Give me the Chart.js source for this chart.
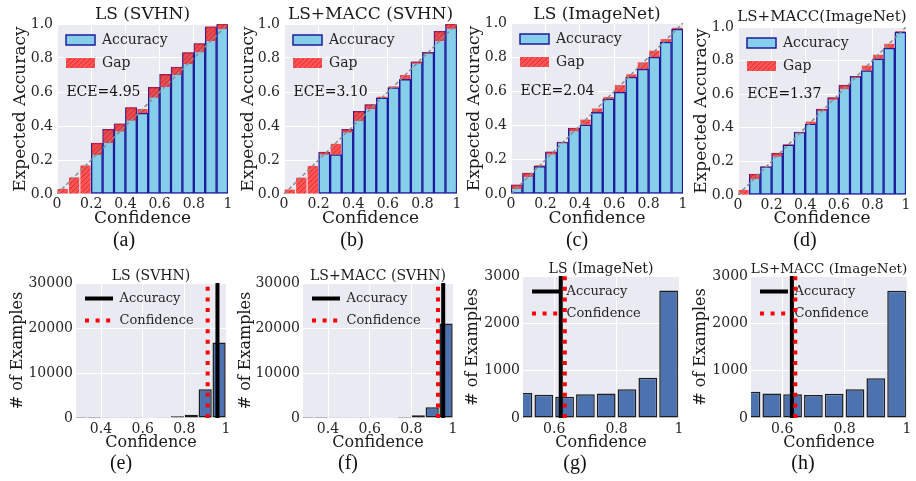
<!DOCTYPE html>
<html><head><meta charset="utf-8">
<script src="https://cdn.jsdelivr.net/npm/chart.js@4.4.1/dist/chart.umd.min.js"></script>
<style>
html,body{margin:0;padding:0;background:#fff;}
#wrap{position:relative;width:916px;height:481px;overflow:hidden;background:#fff;}
#wrap canvas{position:absolute;}
.cap{position:absolute;font-family:'Liberation Serif','DejaVu Serif',serif;font-size:20px;line-height:20px;color:#111;transform:translateX(-50%);white-space:nowrap;}
</style></head><body><div id="wrap"></div>
<script>
// ---------------- DATA ----------------
const BIN_CENTERS = [0.0333,0.1,0.1667,0.2333,0.3,0.3667,0.4333,0.5,0.5667,0.6333,0.7,0.7667,0.8333,0.9,0.9667];

const ACC_LS_SVHN    = [0,0,0,0.30,0.38,0.413,0.509,0.476,0.628,0.704,0.746,0.832,0.885,0.984,1.0];
const CONF_LS_SVHN   = [0.03,0.098,0.168,0.23,0.30,0.368,0.432,0.50,0.567,0.63,0.70,0.765,0.834,0.90,0.97];
const ACC_MACC_SVHN  = [0,0,0,0.246,0.232,0.38,0.486,0.526,0.565,0.626,0.675,0.778,0.833,0.957,1.0];
const CONF_MACC_SVHN = [0.026,0.096,0.165,0.232,0.295,0.362,0.43,0.50,0.572,0.633,0.70,0.767,0.827,0.90,0.972];
const ACC_LS_IMNET   = [0.053,0.123,0.162,0.246,0.304,0.386,0.405,0.478,0.556,0.596,0.684,0.731,0.80,0.889,0.965];
const CONF_LS_IMNET  = [0.03,0.10,0.168,0.232,0.30,0.367,0.435,0.50,0.567,0.637,0.70,0.77,0.838,0.906,0.972];
const ACC_MACC_IMNET = [0,0.125,0.169,0.249,0.298,0.374,0.423,0.511,0.58,0.654,0.706,0.74,0.81,0.875,0.97];
const CONF_MACC_IMNET= [0.03,0.095,0.165,0.229,0.303,0.37,0.437,0.50,0.567,0.63,0.70,0.77,0.835,0.90,0.975];
const DIAGONAL = [{x:0,y:0},{x:1,y:1}];
const ECE_LABELS = ['ECE=4.95','ECE=3.10','ECE=2.04','ECE=1.37'];

const REL_TICKS = [0,0.2,0.4,0.6,0.8,1];
const REL_X_LABELS = ['0','0.2','0.4','0.6','0.8','1'];
const REL_Y_LABELS = ['0.0','0.2','0.4','0.6','0.8','1.0'];

const HIST_CENTERS_SVHN = [0.3,0.3667,0.4333,0.5,0.5667,0.6333,0.7,0.7667,0.8333,0.9,0.9667];
const HIST_LS_SVHN   = [15,25,40,60,80,110,150,380,750,6400,16800];
const HIST_MACC_SVHN = [10,20,30,50,70,100,130,220,600,2400,21000];
const HIST_CENTERS_IMNET = [0.5,0.5667,0.6333,0.7,0.7667,0.8333,0.9,0.9667];
const HIST_LS_IMNET   = [530,490,448,500,515,608,852,2695];
const HIST_MACC_IMNET = [555,520,500,485,512,605,838,2690];

const AVG_ACC  = [0.959,0.953,0.621,0.631];
const AVG_CONF = [0.912,0.928,0.634,0.642];

const SVHN_Y_TICKS = [0,10000,20000,30000];
const IMNET_Y_TICKS = [0,1000,2000,3000];
const SVHN_X_TICKS = [0.4,0.6,0.8,1];
const SVHN_X_LABELS = ['0.4','0.6','0.8','1'];
const IMNET_X_TICKS = [0.6,0.8,1];
const IMNET_X_LABELS = ['0.6','0.8','1'];

const CAPTIONS = ['(a)','(b)','(c)','(d)','(e)','(f)','(g)','(h)'];

// ---------------- SETUP ----------------
Chart.defaults.font.family = 'DejaVu Serif';
Chart.defaults.color = '#262626';
Chart.defaults.animation = false;
const wrap = document.getElementById('wrap');

const bgPlugin = {
  id: 'plotBg',
  beforeDraw(chart) {
    const {ctx, chartArea: a} = chart;
    ctx.save(); ctx.fillStyle = '#EAEAF2';
    ctx.fillRect(a.left, a.top, a.width, a.height); ctx.restore();
  }
};
// keep the in-plot legend anchored at the top-left corner of the plot area
const legendAnchorPlugin = {
  id: 'legendAnchor',
  afterLayout(chart) {
    const lg = chart.legend;
    if (!lg) return;
    const a = chart.chartArea;
    const h = lg.height, w = lg.width;
    lg.top = a.top; lg.bottom = a.top + h;
    lg.left = a.left; lg.right = a.left + w;
    if (typeof lg.adjustHitBoxes === 'function') lg.adjustHitBoxes();
  }
};
const ecePlugin = {
  id: 'eceText',
  afterDatasetsDraw(chart, args, opts) {
    if (!opts || !opts.text) return;
    const {ctx, scales} = chart;
    ctx.save();
    ctx.font = '14px "DejaVu Serif"'; ctx.fillStyle = '#111';
    ctx.textAlign = 'left'; ctx.textBaseline = 'middle';
    ctx.fillText(opts.text, scales.x.getPixelForValue(opts.x), scales.y.getPixelForValue(opts.y));
    ctx.restore();
  }
};

function makeHatch() {
  const c = document.createElement('canvas'); c.width = 5; c.height = 5;
  const g = c.getContext('2d');
  g.fillStyle = 'rgba(255,40,40,0.78)'; g.fillRect(0,0,5,5);
  g.strokeStyle = 'rgba(200,0,0,0.45)'; g.lineWidth = 1;
  g.beginPath();
  g.moveTo(0,5); g.lineTo(5,0);
  g.moveTo(-2.5,2.5); g.lineTo(2.5,-2.5);
  g.moveTo(2.5,7.5); g.lineTo(7.5,2.5);
  g.stroke();
  return g.createPattern(c, 'repeat');
}

function makeCanvas(g) {
  const c = document.createElement('canvas');
  c.width = g.cR - g.cL; c.height = g.cB - g.cT;
  c.style.left = g.cL + 'px'; c.style.top = g.cT + 'px';
  c.style.width = c.width + 'px'; c.style.height = c.height + 'px';
  wrap.appendChild(c);
  return c;
}

function baseOptions(g, xCfg, yCfg, legendCfg, extraPlugins) {
  const yW = g.L - g.cL, xH = g.cB - g.B, titleH = g.T - g.cT, rW = g.cR - g.R;
  const tPb = Math.max(0, g.T - g.titleY - g.titleSize / 2);
  const tPt = Math.max(0, titleH - tPb - g.titleSize);
  const yTp = Math.max(0, g.yTitleX - g.cL - g.axisTitleSize / 2);
  const xTp = Math.max(0, g.cB - g.xTitleY - g.axisTitleSize / 2);
  return {
    responsive: false, animation: false, devicePixelRatio: 1,
    layout: {padding: 0},
    plugins: Object.assign({
      title: {display: true, text: g.title, color: '#1a1a1a',
        font: {size: g.titleSize, lineHeight: 1, weight: 'normal'},
        padding: {top: tPt, bottom: tPb}},
      legend: legendCfg,
      tooltip: {enabled: false}
    }, extraPlugins || {}),
    scales: {
      x: Object.assign({
        type: 'linear', offset: false,
        grid: {color: '#ffffff', lineWidth: 1, drawTicks: false, offset: false},
        border: {display: false},
        title: {display: true, text: g.xTitle, color: '#1a1a1a',
          font: {size: g.axisTitleSize, lineHeight: 1}, padding: {top: 0, bottom: xTp}},
        afterFit: s => { s.height = xH; }
      }, xCfg),
      y: Object.assign({
        type: 'linear',
        grid: {color: '#ffffff', lineWidth: 1, drawTicks: false},
        border: {display: false},
        title: {display: true, text: g.yTitle, color: '#1a1a1a',
          font: {size: g.axisTitleSize, lineHeight: 1}, padding: {top: yTp, bottom: 0}},
        afterFit: s => { s.width = yW; }
      }, yCfg),
      // empty right-hand spacer so that the figure title is centred over the plot
      spacer: {
        type: 'linear', position: 'right', display: true,
        grid: {display: false}, border: {display: false}, ticks: {display: false},
        afterFit: s => { s.width = rW; }
      }
    }
  };
}

function reliabilityPanel(g, acc, conf, eceText) {
  const canvas = makeCanvas(g);
  const legendCfg = {
    display: true, position: 'chartArea', align: 'start',
    labels: {boxWidth: 29, boxHeight: 10, padding: 9, color: '#262626', font: {size: 14},
      filter: it => it.datasetIndex < 2,
      sort: (a, b) => a.datasetIndex - b.datasetIndex}
  };
  const xCfg = {
    min: 0, max: 1,
    afterBuildTicks: s => { s.ticks = REL_TICKS.map(v => ({value: v})); },
    ticks: {callback: (v, i) => REL_X_LABELS[i], font: {size: 14}, padding: 2, maxRotation: 0, autoSkip: false}
  };
  const yCfg = {
    min: 0, max: 1,
    afterBuildTicks: s => { s.ticks = REL_TICKS.map(v => ({value: v})); },
    ticks: {callback: (v, i) => REL_Y_LABELS[i], font: {size: 14}, padding: 4, autoSkip: false}
  };
  new Chart(canvas, {
    type: 'bar',
    data: {datasets: [
      {label: 'Accuracy', data: BIN_CENTERS.map((c, i) => ({x: c, y: acc[i]})),
        backgroundColor: '#87CEEB', borderColor: '#1c1c9c', borderWidth: 1.5, borderSkipped: false,
        grouped: false, barPercentage: 1, categoryPercentage: 1, order: 2},
      {label: 'Gap', data: BIN_CENTERS.map((c, i) => ({x: c, y: [acc[i], conf[i]]})),
        backgroundColor: makeHatch(), borderWidth: 0,
        grouped: false, barPercentage: 0.9, categoryPercentage: 1, order: 1},
      {type: 'line', label: 'diag', data: DIAGONAL, borderColor: '#8c8c8c', borderWidth: 1.5,
        borderDash: [4, 2.5], pointRadius: 0, order: 0}
    ]},
    options: baseOptions(g, xCfg, yCfg, legendCfg, {eceText: {text: eceText, x: 0.055, y: 0.6}}),
    plugins: [bgPlugin, legendAnchorPlugin, ecePlugin]
  });
}

function histPanel(g, centers, counts, acc, conf, yTicks, xTicks, xLabels, xMin, barPct) {
  const canvas = makeCanvas(g);
  const yMax = yTicks[yTicks.length - 1];
  const legendCfg = {
    display: true, position: 'chartArea', align: 'start',
    labels: {usePointStyle: true, pointStyleWidth: 28, padding: 9, color: '#262626', font: {size: 13},
      sort: (a, b) => a.datasetIndex - b.datasetIndex,
      generateLabels(chart) {
        const base = Chart.defaults.plugins.legend.labels.generateLabels(chart);
        return base.filter(it => it.datasetIndex < 2).map(it => {
          const ds = chart.data.datasets[it.datasetIndex];
          return Object.assign(it, {lineWidth: ds.borderWidth, strokeStyle: ds.borderColor,
            lineDash: ds.borderDash || [], pointStyle: 'line', lineCap: 'butt'});
        });
      }}
  };
  const xCfg = {
    min: xMin, max: 1,
    afterBuildTicks: s => { s.ticks = xTicks.map(v => ({value: v})); },
    ticks: {callback: (v, i) => xLabels[i], font: {size: 14}, padding: 3, maxRotation: 0, autoSkip: false}
  };
  const yCfg = {
    min: 0, max: yMax,
    afterBuildTicks: s => { s.ticks = yTicks.map(v => ({value: v})); },
    ticks: {callback: (v, i) => String(yTicks[i]), font: {size: 14}, padding: 3, autoSkip: false}
  };
  new Chart(canvas, {
    type: 'bar',
    data: {datasets: [
      {type: 'line', label: 'Accuracy', data: [{x: acc, y: 0}, {x: acc, y: yMax}],
        borderColor: '#000000', borderWidth: 4, pointRadius: 0, order: 1},
      {type: 'line', label: 'Confidence', data: [{x: conf, y: 0}, {x: conf, y: yMax}],
        borderColor: '#ff0000', borderWidth: 4, borderDash: [4, 6.6], pointRadius: 0, order: 0},
      {type: 'bar', label: 'hist', data: centers.map((c, i) => ({x: c, y: counts[i]})),
        backgroundColor: '#4C72B0', borderColor: '#1e1e1e', borderWidth: 1.5, borderSkipped: false,
        grouped: false, barPercentage: barPct, categoryPercentage: 1, clip: 0, order: 3}
    ]},
    options: baseOptions(g, xCfg, yCfg, legendCfg),
    plugins: [bgPlugin, legendAnchorPlugin]
  });
}

// ---------------- PANELS ----------------
const TOP = {cT: 0, cB: 232, xTitleY: 219, axisTitleSize: 17, xTitle: 'Confidence', yTitle: 'Expected Accuracy'};
const BOT = {cT: 250, cB: 455, xTitleY: 443, axisTitleSize: 16, xTitle: 'Confidence', yTitle: '# of Examples'};

reliabilityPanel(Object.assign({}, TOP, {L: 57, T: 24, R: 228, B: 194, cL: 4, cR: 281, title: 'LS (SVHN)', titleSize: 17, titleY: 14.5, yTitleX: 20.3}), ACC_LS_SVHN, CONF_LS_SVHN, ECE_LABELS[0]);
reliabilityPanel(Object.assign({}, TOP, {L: 284, T: 24, R: 457, B: 194, cL: 232, cR: 509, title: 'LS+MACC (SVHN)', titleSize: 17, titleY: 14.5, yTitleX: 249}), ACC_MACC_SVHN, CONF_MACC_SVHN, ECE_LABELS[1]);
reliabilityPanel(Object.assign({}, TOP, {L: 511, T: 23, R: 683, B: 194, cL: 460, cR: 734, title: 'LS (ImageNet)', titleSize: 17, titleY: 14.5, yTitleX: 475}), ACC_LS_IMNET, CONF_LS_IMNET, ECE_LABELS[2]);
reliabilityPanel(Object.assign({}, TOP, {L: 738, T: 27, R: 906, B: 195, cL: 688, cR: 956, title: 'LS+MACC(ImageNet)', titleSize: 15, titleY: 17.5, yTitleX: 701.5}), ACC_MACC_IMNET, CONF_MACC_IMNET, ECE_LABELS[3]);

histPanel(Object.assign({}, BOT, {L: 76, T: 283, R: 226, B: 418, cL: 4, cR: 298, title: 'LS (SVHN)', titleSize: 14, titleY: 276.5, yTitleX: 17.5}), HIST_CENTERS_SVHN, HIST_LS_SVHN, AVG_ACC[0], AVG_CONF[0], SVHN_Y_TICKS, SVHN_X_TICKS, SVHN_X_LABELS, 0.28, 0.95);
histPanel(Object.assign({}, BOT, {L: 303, T: 283, R: 453, B: 418, cL: 232, cR: 524, title: 'LS+MACC (SVHN)', titleSize: 14, titleY: 276.5, yTitleX: 245.5}), HIST_CENTERS_SVHN, HIST_MACC_SVHN, AVG_ACC[1], AVG_CONF[1], SVHN_Y_TICKS, SVHN_X_TICKS, SVHN_X_LABELS, 0.28, 0.95);
histPanel(Object.assign({}, BOT, {L: 523, T: 276, R: 679, B: 418, cL: 460, cR: 742, title: 'LS (ImageNet)', titleSize: 14, titleY: 269, yTitleX: 472.5}), HIST_CENTERS_IMNET, HIST_LS_IMNET, AVG_ACC[2], AVG_CONF[2], IMNET_Y_TICKS, IMNET_X_TICKS, IMNET_X_LABELS, 0.5, 0.9);
histPanel(Object.assign({}, BOT, {L: 751, T: 276, R: 907, B: 418, cL: 688, cR: 970, title: 'LS+MACC (ImageNet)', titleSize: 13.5, titleY: 269, yTitleX: 700.5}), HIST_CENTERS_IMNET, HIST_MACC_IMNET, AVG_ACC[3], AVG_CONF[3], IMNET_Y_TICKS, IMNET_X_TICKS, IMNET_X_LABELS, 0.5, 0.9);

// ---------------- SUBCAPTIONS ----------------
const CAP_POS = [[124,240],[352,240],[577,240],[805,240],[121,463],[348,463],[575,463],[803,463]];
CAPTIONS.forEach((t, i) => {
  const d = document.createElement('div');
  d.className = 'cap'; d.textContent = t;
  d.style.left = CAP_POS[i][0] + 'px'; d.style.top = (CAP_POS[i][1] - 11) + 'px';
  wrap.appendChild(d);
});
</script></body></html>
